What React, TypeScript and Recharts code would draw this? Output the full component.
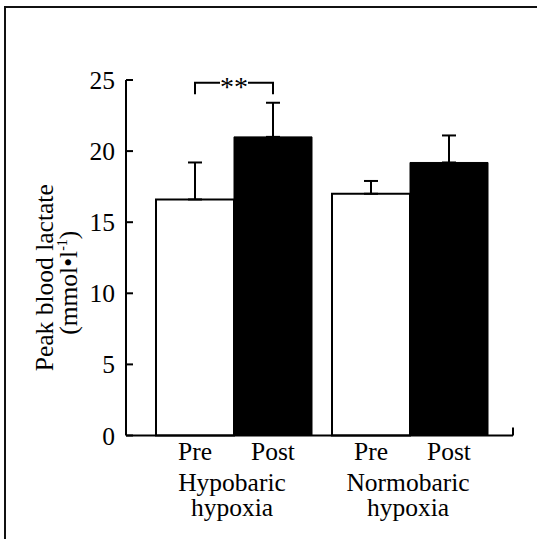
import { BarChart, Bar, XAxis, YAxis, ErrorBar, LabelList } from 'recharts';

const groups = ['Hypobaric hypoxia', 'Normobaric hypoxia'];
const preMean = [16.6, 17.0];
const preSd = [2.6, 0.9];
const postMean = [21.0, 19.2];
const postSd = [2.4, 1.9];
const yTicks = [0, 5, 10, 15, 20, 25];
const barNames = ['Pre', 'Post'];
const sigText = '**';
// bracket: leg bottom, bracket top (in mmol/l)
const sigLevel = [24.0, 24.8];

const FONT = '"Liberation Serif", "Times New Roman", serif';

const data = groups.map((g, i) => ({
  group: g,
  pre: preMean[i],
  post: postMean[i],
  preErr: [0, preSd[i]],
  postErr: [0, postSd[i]],
}));

function GroupTick({ x, y, payload }: any) {
  const [first, second] = String(payload.value).split(' ');
  return (
    <text x={x - 2} y={y} textAnchor="middle" fontFamily={FONT} fontSize={25.5} fill="#000">
      <tspan x={x - 2} dy={55.5}>{first}</tspan>
      <tspan x={x - 2} dy={25}>{second}</tspan>
    </text>
  );
}

const barLabel = (text: string) => (p: any) => {
  const vb = p.viewBox ?? p;
  return (
    <text
      x={vb.x + vb.width / 2}
      y={vb.y + vb.height + 24.5}
      textAnchor="middle"
      fontFamily={FONT}
      fontSize={25.5}
      fill="#000"
    >
      {text}
    </text>
  );
};

function SigBracket(p: any) {
  if (p.index !== 0) return null;
  const vb = p.viewBox ?? p;
  const v = Number(p.value);
  const base = vb.y + vb.height;
  const k = vb.height / v;
  const top = base - sigLevel[1] * k;
  const leg = base - sigLevel[0] * k;
  const x1 = vb.x - vb.width / 2;
  const x2 = vb.x + vb.width / 2;
  const mid = vb.x;
  return (
    <g>
      <path
        d={`M${x1},${leg}V${top}H${mid - 14}M${mid + 14},${top}H${x2}V${leg}`}
        stroke="#000"
        strokeWidth={2}
        fill="none"
      />
      <text x={mid} y={top + 13} textAnchor="middle" fontFamily={FONT} fontSize={28} fill="#000">
        {sigText}
      </text>
    </g>
  );
}

function YLabel({ viewBox }: any) {
  const cy = viewBox.y + viewBox.height / 2;
  const x1 = viewBox.x - 3;
  const x2 = viewBox.x + 21;
  return (
    <g fontFamily={FONT} fill="#000">
      <text x={x1} y={cy + 20} transform={`rotate(-90 ${x1} ${cy + 20})`} textAnchor="middle" fontSize={25.5}>
        Peak blood lactate
      </text>
      <text x={x2} y={cy + 25} transform={`rotate(-90 ${x2} ${cy + 25})`} textAnchor="middle" fontSize={25.5}>
        (mmol•l<tspan fontSize={14} dy={-10}>-1</tspan>
        <tspan dy={10}>)</tspan>
      </text>
    </g>
  );
}

export default function App() {
  return (
    <div style={{ position: 'absolute', left: 0, top: 0, width: 537, height: 539, background: '#fff' }}>
      <div
        style={{
          position: 'absolute',
          left: 4,
          top: 6,
          width: 531,
          height: 531,
          borderTop: '2px solid #111',
          borderLeft: '2px solid #111',
        }}
      />
      <div style={{ position: 'absolute', left: 0, top: 0 }}>
        <BarChart
          width={537}
          height={539}
          data={data}
          margin={{ top: 80, right: 24, bottom: 13.5, left: 56 }}
          barGap={0}
          barCategoryGap={10}
        >
          <XAxis
            dataKey="group"
            interval={0}
            padding={{ left: 20, right: 15 }}
            height={90}
            axisLine={{ stroke: '#000', strokeWidth: 2 }}
            tickLine={false}
            tickSize={0}
            tickMargin={0}
            tick={<GroupTick />}
          />
          <XAxis
            xAxisId="frame"
            type="number"
            domain={[0, 2]}
            ticks={[1, 2]}
            mirror
            axisLine={false}
            tickSize={8}
            tickLine={{ stroke: '#000', strokeWidth: 2 }}
            tickFormatter={() => ''}
          />
          <YAxis
            type="number"
            domain={[0, 25]}
            ticks={yTicks}
            interval={0}
            width={70}
            tickSize={-7}
            tickMargin={18}
            axisLine={{ stroke: '#000', strokeWidth: 2 }}
            tickLine={{ stroke: '#000', strokeWidth: 2 }}
            tick={{ fill: '#000', fontSize: 25.5, fontFamily: FONT }}
            label={{ content: (p: any) => <YLabel viewBox={p.viewBox} /> }}
          />
          <Bar dataKey="pre" fill="#fff" stroke="#000" strokeWidth={2} isAnimationActive={false}>
            <ErrorBar dataKey="preErr" direction="y" width={7} stroke="#000" strokeWidth={2} isAnimationActive={false} />
            <LabelList dataKey="pre" content={barLabel(barNames[0])} />
          </Bar>
          <Bar dataKey="post" fill="#000" stroke="#000" strokeWidth={1} isAnimationActive={false}>
            <ErrorBar dataKey="postErr" direction="y" width={7} stroke="#000" strokeWidth={2} isAnimationActive={false} />
            <LabelList dataKey="post" content={barLabel(barNames[1])} />
            <LabelList dataKey="post" content={SigBracket} />
          </Bar>
        </BarChart>
      </div>
    </div>
  );
}
